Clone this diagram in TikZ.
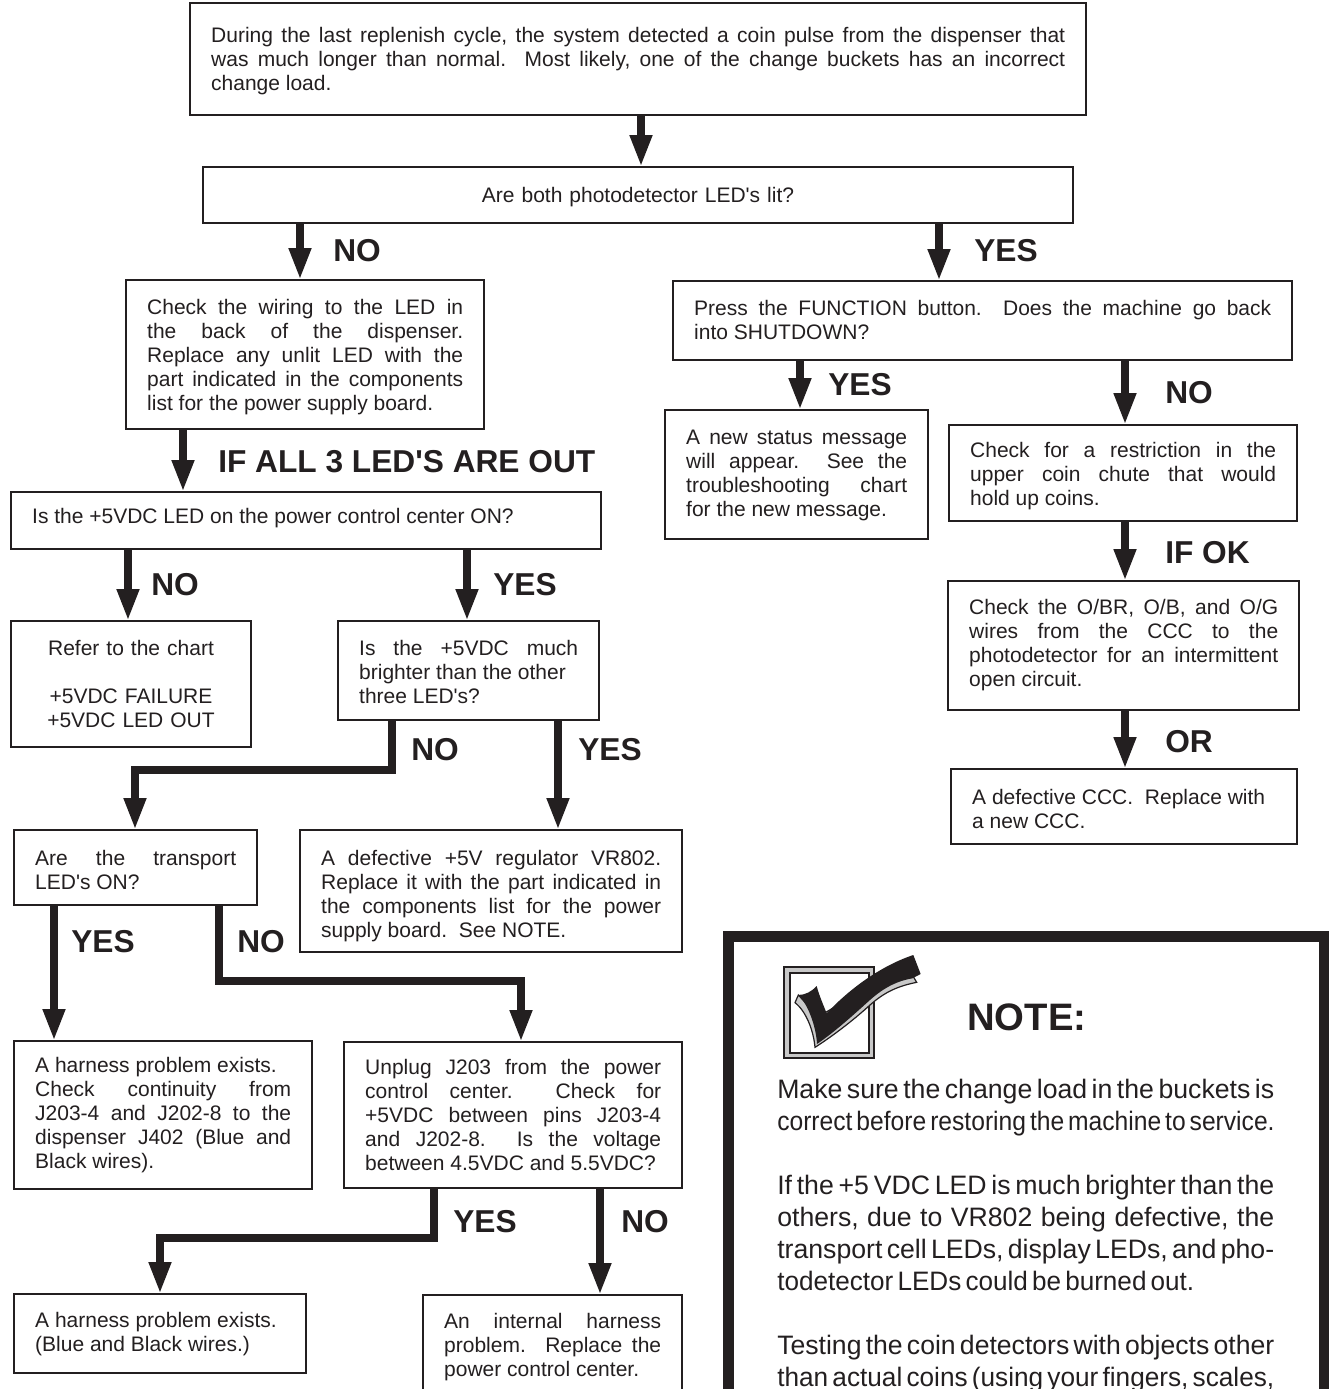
\documentclass[tikz,border=0pt]{standalone}
\usepackage{fontspec}
\usepackage{graphicx}
\setmainfont[Ligatures=TeXOff]{Liberation Sans}
\usetikzlibrary{arrows.meta}
\definecolor{ink}{HTML}{231F20}
\definecolor{band}{HTML}{C8C8C8}
\hyphenpenalty=10000
\exhyphenpenalty=10000
\tolerance=9999
\frenchspacing
\tikzset{
  box/.style={draw=ink,line width=1.6pt,fill=white,inner sep=0pt,outer sep=0pt},
  boxtext/.style={inner sep=0pt,outer sep=0pt,align=justify,text=ink,font=\fontsize{15.75}{18}\selectfont},
  centred/.style={boxtext,align=center},
  flow/.style={draw=ink,line width=6pt,miter limit=10,-{Triangle[length=24pt,width=15.5pt,fill=ink]}},
  lab/.style={anchor=base west,inner sep=0pt,text=ink,font=\fontsize{23.75}{28}\selectfont\bfseries},
  notetext/.style={anchor=north west,inner sep=0pt,text=ink,text width=390pt,align=left,font=\fontsize{20}{24}\selectfont},
  noteframe/.style={draw=ink,line width=7.9pt,miter limit=10}
}
\newcommand\bx[7][0]{%
  \pgfmathsetmacro\tw{(#5-#3-42)*.75}%
  \pgfmathsetmacro\mw{(#5-#3)*.75}%
  \pgfmathsetmacro\mh{(#6-#4)*.75}%
  \node[box,minimum width=\mw pt,minimum height=\mh pt] (#2) at ({(#3+#5)/2},{(#4+#6)/2}) {};
  \node[boxtext,text width=\tw pt] (#2t) at ({(#3+#5)/2+.2},{(#4+#6)/2+#1}) {#7};}
\newcommand\bxc[7][0]{%
  \pgfmathsetmacro\tw{(#5-#3-42)*.75}%
  \pgfmathsetmacro\mw{(#5-#3)*.75}%
  \pgfmathsetmacro\mh{(#6-#4)*.75}%
  \node[box,minimum width=\mw pt,minimum height=\mh pt] (#2) at ({(#3+#5)/2},{(#4+#6)/2}) {};
  \node[centred,text width=\tw pt] (#2t) at ({(#3+#5)/2},{(#4+#6)/2+#1}) {#7};}
\newcommand\lb[4]{\node[lab] (#1) at (#2,{#3+11}) {#4};}
\newsavebox\fitbox
\newcommand\fit[2]{\leavevmode\sbox\fitbox{\spaceskip=.16em\relax #2}%
  \ifdim\wd\fitbox>#1\relax\resizebox{#1}{\height}{\usebox\fitbox}\else\hbox to #1{\spaceskip=.16em plus 1fil\relax #2}\fi}
\begin{document}
\begin{tikzpicture}[x=0.75pt,y=-0.75pt]
\useasboundingbox (0,0) rectangle (1329,1389);
\clip (0,0) rectangle (1329,1389);
% boxes
\bx[2]{b1}{190}{3}{1086}{115}{During the last replenish cycle, the system detected a coin pulse from the dispenser that\linebreak was much longer than normal.~ Most likely, one of the change buckets has an incorrect\linebreak change load.}
\bxc[2]{b2}{203}{167}{1073}{223}{Are both photodetector LED's lit?}
\bx[3]{b3}{126}{280}{484}{429}{Check the wiring to the LED in\linebreak the back of the dispenser.\linebreak Replace any unlit LED with the\linebreak part indicated in the components\linebreak list for the power supply board.}
\bx[-2]{b4}{11}{492}{601}{549}{Is the +5VDC LED on the power control center ON?}
\bxc{b5}{11}{621}{251}{747}{Refer to the chart\\[18pt]+5VDC FAILURE\\+5VDC LED OUT}
\bx[1]{b6}{338}{621}{599}{720}{Is the +5VDC much\linebreak brighter than the other\\three LED's?}
\bx[2]{b7}{14}{830}{257}{905}{Are the transport\linebreak LED's ON?}
\bx[5]{b8}{300}{830}{682}{952}{A defective +5V regulator VR802.\linebreak Replace it with the part indicated in\linebreak the components list for the power\linebreak supply board.~ See NOTE.}
\bx{b9}{14}{1041}{312}{1189}{A harness problem exists.\\Check continuity from\linebreak J203-4 and J202-8 to the\linebreak dispenser J402 (Blue and\linebreak Black wires).}
\bx{b10}{344}{1042}{682}{1188}{Unplug J203 from the power\linebreak control center.~ Check for\linebreak +5VDC between pins J203-4\linebreak and J202-8.~ Is the voltage\linebreak between 4.5VDC and 5.5VDC?}
\bx[1]{b11}{14}{1294}{306}{1373}{A harness problem exists.\\(Blue and Black wires.)}
\bx[2]{b12}{423}{1295}{682}{1396}{An internal harness\linebreak problem.~ Replace the\linebreak power control center.}
\bx[-1]{b13}{673}{281}{1292}{360}{Press the FUNCTION button.~ Does the machine go back\linebreak into SHUTDOWN?}
\bx[1]{b14}{665}{410}{928}{539}{A new status message\linebreak will appear.~ See the\linebreak troubleshooting chart\linebreak for the new message.}
\bx[3]{b15}{949}{425}{1297}{521}{Check for a restriction in the\linebreak upper coin chute that would\linebreak hold up coins.}
\bx{b16}{948}{581}{1299}{710}{Check the O/BR, O/B, and O/G\linebreak wires from the CCC to the\linebreak photodetector for an intermittent\linebreak open circuit.}
\bx[2]{b17}{951}{769}{1297}{844}{A defective CCC.~ Replace with\\a new CCC.}
% connector positions
\coordinate (c1) at (641,0);
\coordinate (c2) at (300,0);
\coordinate (c3) at (939,0);
\coordinate (c4) at (183,0);
\coordinate (c5) at (128,0);
\coordinate (c6) at (467,0);
\coordinate (c7) at (558,0);
\coordinate (c8) at (54,0);
\coordinate (c9) at (600,0);
\coordinate (c10) at (800,0);
\coordinate (c11) at (1125,0);
\coordinate (e1a) at (392,770);
\coordinate (e1b) at (135,770);
\coordinate (e2a) at (219,981);
\coordinate (e2b) at (521,981);
\coordinate (e3a) at (434,1238);
\coordinate (e3b) at (160,1238);
% connectors
\draw[flow] (c1 |- b1.south) -- (c1 |- b2.north);
\draw[flow] (c2 |- b2.south) -- (c2 |- b3.north);
\draw[flow] (c3 |- b2.south) -- (c3 |- b13.north);
\draw[flow] (c4 |- b3.south) -- (c4 |- b4.north);
\draw[flow] (c5 |- b4.south) -- (c5 |- b5.north);
\draw[flow] (c6 |- b4.south) -- (c6 |- b6.north);
\draw[flow] (e1a |- b6.south) -- (e1a) -- (e1b) -- (e1b |- b7.north);
\draw[flow] (c7 |- b6.south) -- (c7 |- b8.north);
\draw[flow] (c8 |- b7.south) -- (c8 |- b9.north);
\draw[flow] (e2a |- b7.south) -- (e2a) -- (e2b) -- (e2b |- b10.north);
\draw[flow] (e3a |- b10.south) -- (e3a) -- (e3b) -- (e3b |- b11.north);
\draw[flow] (c9 |- b10.south) -- (c9 |- b12.north);
\draw[flow] (c10 |- b13.south) -- (c10 |- b14.north);
\draw[flow] (c11 |- b13.south) -- (c11 |- b15.north);
\draw[flow] (c11 |- b15.south) -- (c11 |- b16.north);
\draw[flow] (c11 |- b16.south) -- (c11 |- b17.north);
% labels
\lb{l1}{333}{250}{NO}
\lb{l2}{974}{250}{YES}
\lb{l3}{218}{461}{IF ALL 3 LED'S ARE OUT}
\lb{l4}{151}{584}{NO}
\lb{l5}{493}{584}{YES}
\lb{l6}{411}{749}{NO}
\lb{l7}{578}{749}{YES}
\lb{l8}{71}{941}{YES}
\lb{l9}{237}{941}{NO}
\lb{l10}{453}{1221}{YES}
\lb{l11}{621}{1221}{NO}
\lb{l12}{828}{384}{YES}
\lb{l13}{1165}{392}{NO}
\lb{l14}{1165}{552}{IF OK}
\lb{l15}{1165}{741}{OR}
% note frame
\draw[noteframe] (728.5,1420) -- (728.5,936.3) -- (1324,936.3) -- (1324,1420);
% check icon
\begin{scope}[shift={(775,950)},x=0.25pt,y=-0.25pt]
\draw[fill=band,draw=ink,line width=1.3pt] (27,50) rectangle (298,325);
\draw[fill=white,draw=ink,line width=1.3pt] (45,68) rectangle (282,308);
\draw[fill=band,draw=ink,line width=.9pt] (60,158) -- (70,135) -- (130,200) -- (300,100) -- (415,80) -- (425,97) .. controls (370,108) and (330,125) .. (285,165) .. controls (230,215) and (170,260) .. (120,292) .. controls (116,245) and (95,185) .. (60,158) -- cycle;
\fill[ink] (70,135) .. controls (90,135) and (110,125) .. (125,108) .. controls (132,135) and (145,165) .. (155,190) .. controls (215,125) and (310,50) .. (415,15) -- (437,72) -- (412,85) .. controls (370,92) and (330,110) .. (285,150) .. controls (235,195) and (180,245) .. (126,282) .. controls (124,240) and (105,170) .. (70,135) -- cycle;
\end{scope}
\node[anchor=base west,inner sep=0pt,text=ink,font=\fontsize{28.7}{34}\selectfont\bfseries] (nt) at (967,1030) {NOTE:};
\node[notetext] (nb) at (777,1079) {%
\fit{372.75pt}{Make sure the change load in the buckets is}\\
\fit{373pt}{correct before restoring the machine to service.}\\[24pt]
\fit{372.75pt}{If the +5 VDC LED is much brighter than the}\\
\fit{372.75pt}{others, due to VR802 being defective, the}\\
\fit{372.75pt}{transport cell LEDs, display LEDs, and pho-}\\
\fit{312.75pt}{todetector LEDs could be burned out.}\\[24pt]
\fit{372.75pt}{Testing the coin detectors with objects other}\\
\fit{372.75pt}{than actual coins (using your fingers, scales,}};
\end{tikzpicture}
\end{document}
